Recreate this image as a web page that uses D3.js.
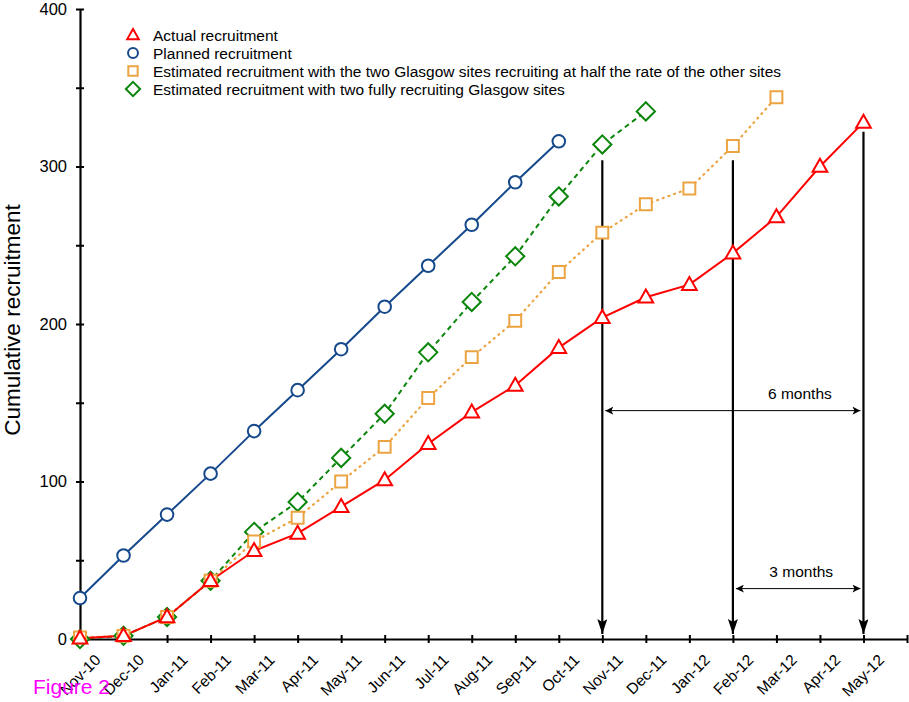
<!DOCTYPE html>
<html>
<head>
<meta charset="utf-8">
<script src="https://cdn.jsdelivr.net/npm/d3@7"></script>
<style>
  body { margin: 0; background: #fff; }
  svg text { font-family: "Liberation Sans", Arial, Helvetica, sans-serif; }
</style>
</head>
<body>
<svg id="chart" width="909" height="702"></svg>
<script>
"use strict";

// month labels, Nov-10 .. May-12 (plus one empty slot at the end of the axis)
const months = ["Nov-10", "Dec-10", "Jan-11", "Feb-11", "Mar-11", "Apr-11", "May-11", "Jun-11",
    "Jul-11", "Aug-11", "Sep-11", "Oct-11", "Nov-11", "Dec-11", "Jan-12", "Feb-12",
    "Mar-12", "Apr-12", "May-12"];

const actual  = [0.5, 2, 14, 37, 56, 67, 84, 101, 124, 144, 161, 185, 204, 217, 225, 245, 268, 300, 328];
const planned = [26, 53, 79, 105, 132, 158, 184, 211, 237, 263, 290, 316];
const halfRate = [1, 2, 14, 37, 62, 77, 100, 122, 153, 179, 202, 233, 258, 276, 286, 313, 344];
const fullRate = [0, 2, 14, 37, 68, 87, 115, 143, 182, 214, 243, 281, 314, 335];

const yTicks = [0, 50, 100, 150, 200, 250, 300, 350, 400];
const yLabels = [0, 100, 200, 300, 400];

// annotation arrows: month index, top value
const dropArrows = [[12, 304], [15, 304], [18, 322]];
const spanArrows = [
    {from: 12, to: 18, y: 145, label: "6 months"},
    {from: 15, to: 18, y: 32, label: "3 months"}
];

const legendItems = [
    {name: "Actual recruitment", key: "actual"},
    {name: "Planned recruitment", key: "planned"},
    {name: "Estimated recruitment with the two Glasgow sites recruiting at half the rate of the other sites", key: "half"},
    {name: "Estimated recruitment with two fully recruiting Glasgow sites", key: "full"}
];

const styles = {
    actual:  {color: "#ff0000", dash: null,  shape: "triangle"},
    planned: {color: "#15498c", dash: null,  shape: "circle"},
    half:    {color: "#eba441", dash: "1,5", shape: "square"},
    full:    {color: "#0b850b", dash: "5,4", shape: "diamond"}
};

const svg = d3.select("#chart");
const x = d3.scaleLinear().domain([0, 19]).range([80, 907]);
const y = d3.scaleLinear().domain([0, 400]).range([639, 9]);

function shapePath(shape, s) {
    // s = approximate half size
    if (shape === "triangle") return `M0,${-s * 1.1}L${s * 1.05},${s * 0.75}L${-s * 1.05},${s * 0.75}Z`;
    if (shape === "square") return `M${-s * 0.85},${-s * 0.85}h${s * 1.7}v${s * 1.7}h${-s * 1.7}Z`;
    if (shape === "diamond") return `M0,${-s * 1.3}L${s * 1.3},0L0,${s * 1.3}L${-s * 1.3},0Z`;
    return null;
}

function drawMarker(g, key, cx, cy, s) {
    const st = styles[key];
    if (st.shape === "circle") {
        g.append("circle").attr("cx", cx).attr("cy", cy).attr("r", s * 0.9)
            .style("fill", "#fff").style("stroke", st.color).style("stroke-width", 2);
    } else {
        g.append("path").attr("d", shapePath(st.shape, s))
            .attr("transform", `translate(${cx},${cy})`)
            .style("fill", "#fff").style("stroke", st.color).style("stroke-width", 2);
    }
}

// axes
const yAxis = d3.axisLeft(y).tickValues(yTicks).tickSize(0)
    .tickFormat(d => yLabels.includes(d) ? d : "");
const yg = svg.append("g").attr("transform", "translate(80,0)").call(yAxis);
yg.select(".domain").style("stroke-width", 2.2);
yg.selectAll(".tick line").attr("x1", -4).attr("x2", 4).style("stroke-width", 2);
yg.selectAll(".tick text").attr("x", -13).style("font-size", "16.5px").style("fill", "#000");

const xAxis = d3.axisBottom(x).tickValues(d3.range(0, 20)).tickSize(0)
    .tickFormat(i => months[i] || "");
const xg = svg.append("g").attr("transform", "translate(0,639)").call(xAxis);
xg.select(".domain").style("stroke-width", 2.2);
xg.selectAll(".tick line").attr("y1", -4).attr("y2", 4).style("stroke-width", 2);
xg.selectAll(".tick text")
    .style("font-size", "15.5px").style("fill", "#000")
    .attr("text-anchor", "end")
    .attr("y", 0).attr("dy", 0)
    .attr("transform", "translate(21,22) rotate(-45)");

// y label
svg.append("text")
    .attr("transform", "translate(20,320) rotate(-90)")
    .attr("text-anchor", "middle")
    .style("font-size", "22.5px")
    .text("Cumulative recruitment");

// arrow heads
const defs = svg.append("defs");
defs.append("marker").attr("id", "bigHead")
    .attr("viewBox", "0 0 15 10").attr("refX", 15).attr("refY", 5)
    .attr("markerWidth", 15).attr("markerHeight", 10).attr("markerUnits", "userSpaceOnUse")
    .attr("orient", "auto")
    .append("path").attr("d", "M0,0L15,5L0,10L3,5Z").style("fill", "#000");
defs.append("marker").attr("id", "smallHead")
    .attr("viewBox", "0 0 8 8").attr("refX", 8).attr("refY", 4)
    .attr("markerWidth", 8).attr("markerHeight", 8).attr("markerUnits", "userSpaceOnUse")
    .attr("orient", "auto-start-reverse")
    .append("path").attr("d", "M0,0L8,4L0,8L2,4Z").style("fill", "#000");

// series lines and markers
const series = [
    {key: "full", values: fullRate},
    {key: "half", values: halfRate},
    {key: "planned", values: planned},
    {key: "actual", values: actual}
];

const line = d3.line().x((d, i) => x(i)).y(d => y(d));

series.forEach(function(s) {
    const st = styles[s.key];
    svg.append("path")
        .datum(s.values)
        .attr("d", line)
        .style("fill", "none")
        .style("stroke", st.color)
        .style("stroke-width", s.key === "half" ? 2.2 : 2)
        .style("stroke-linecap", s.key === "half" ? "round" : "butt")
        .style("stroke-dasharray", st.dash);
});

// annotation arrows (drawn under markers)
const ann = svg.append("g");
dropArrows.forEach(function(a) {
    ann.append("line")
        .attr("x1", x(a[0])).attr("x2", x(a[0]))
        .attr("y1", y(a[1])).attr("y2", y(0) - 5)
        .style("stroke", "#000").style("stroke-width", 2.2)
        .attr("marker-end", "url(#bigHead)");
});
spanArrows.forEach(function(a) {
    ann.append("line")
        .attr("x1", x(a.from) + 3).attr("x2", x(a.to) - 3)
        .attr("y1", y(a.y)).attr("y2", y(a.y))
        .style("stroke", "#000").style("stroke-width", 1)
        .attr("marker-start", "url(#smallHead)")
        .attr("marker-end", "url(#smallHead)");
    ann.append("text")
        .attr("x", (x(a.from) + x(a.to)) / 2 + (a.to - a.from === 6 ? 67 : 3))
        .attr("y", y(a.y) - 12)
        .attr("text-anchor", "middle")
        .style("font-size", "15.5px")
        .text(a.label);
});

series.forEach(function(s) {
    const g = svg.append("g");
    s.values.forEach((v, i) => drawMarker(g, s.key, x(i), y(v), 7));
});

// legend
const leg = svg.append("g");
legendItems.forEach(function(it, i) {
    const ly = 35 + i * 18;
    drawMarker(leg, it.key, 133, ly, 5.5);
    leg.append("text").attr("x", 153).attr("y", ly + 5.5)
        .style("font-size", "15.5px").text(it.name);
});

svg.append("text").attr("x", 33).attr("y", 694)
    .style("font-size", "21px").style("fill", "#ff00ff")
    .text("Figure 2");
</script>
</body>
</html>
